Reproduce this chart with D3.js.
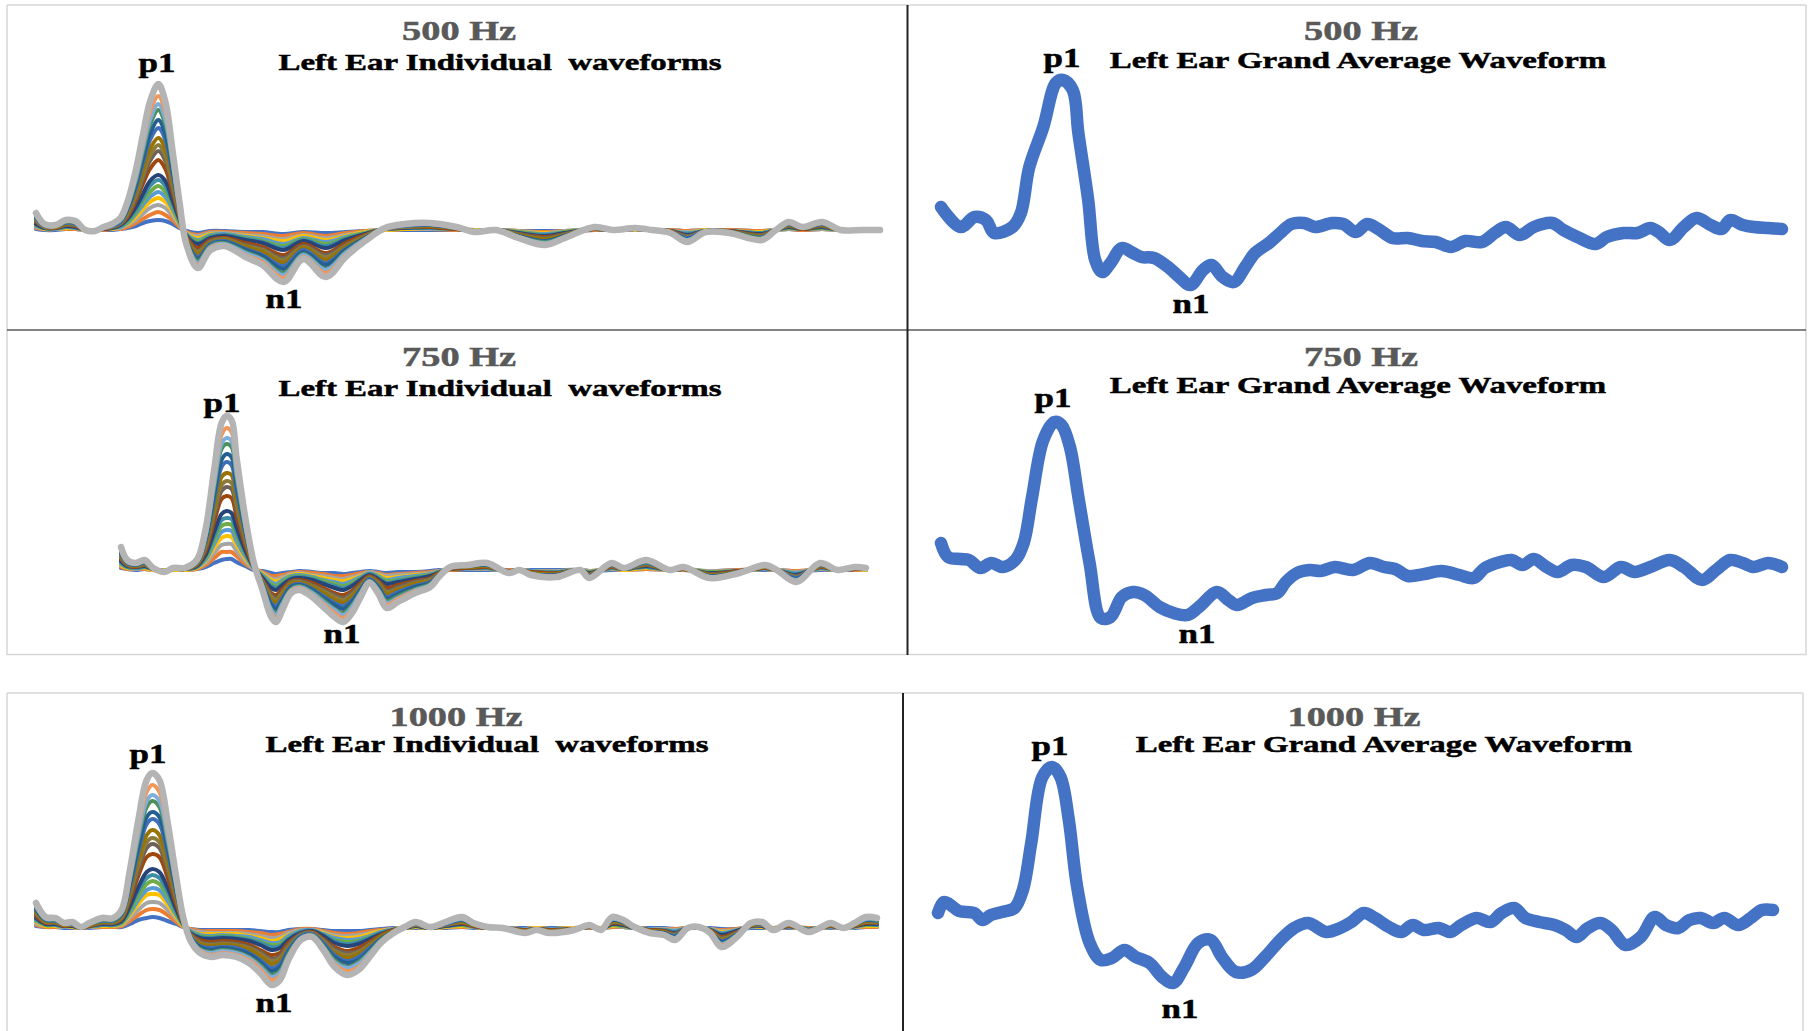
<!DOCTYPE html>
<html><head><meta charset="utf-8">
<script src="https://cdn.jsdelivr.net/npm/d3@7"></script>
<style>
html,body{margin:0;padding:0;background:#fff;}
svg{display:block;}
text{font-family:"Liberation Serif","Times New Roman",serif;font-weight:bold;}
</style></head><body>
<svg id="fig" width="1809" height="1031"></svg>
<script>
// ---- Grand average waveforms: latency (ms) and amplitude (µV) ----
const ga500Ms = [0,14,24,32,38,51,57,63,73,82,87,94,98,105,110,115,121,129,137,143,152,162,170,178,187,193,201,209,217,224,234,242,250,259,267,279,287,296,304,312,322,333,343,353,364,374,386,395,403,413,423,436,444,454,467,475,487,497,506,512,520,530,539,549,557,563,572,580,590,600];
const ga500Amp = [1.8,-0.2,0.8,0.5,-0.8,-0.2,1.2,5.8,9.8,14.2,14.5,13.5,9.2,2.5,-3.5,-4.7,-3.8,-2.3,-2.8,-3.2,-3.3,-4.2,-5.2,-6.0,-4.5,-4.0,-5.2,-5.7,-4.2,-2.8,-1.8,-0.8,0.1,0.2,-0.2,0.2,0.1,-0.7,0.1,-0.4,-1.3,-1.3,-1.6,-1.7,-2.2,-1.6,-1.7,-0.8,-0.2,-1.0,-0.2,0.2,-0.5,-1.2,-1.9,-1.2,-0.8,-0.8,-0.3,-0.7,-1.5,-0.2,0.7,0.0,-0.4,0.5,0.0,-0.2,-0.3,-0.4];

const ga750Ms = [0,5,14,20,28,36,44,53,59,65,73,81,86,92,98,106,114,121,129,137,145,156,166,176,184,197,205,211,222,232,240,246,254,263,271,281,294,306,316,324,333,345,357,370,380,388,399,407,415,423,432,440,450,460,473,485,495,506,520,530,543,553,563,572,580,590,600];
const ga750Amp = [1.7,0.3,0.1,0.0,-0.8,-0.3,-0.7,0.0,1.7,6.3,12.0,13.8,13.5,11.3,6.3,-0.3,-5.8,-5.7,-3.7,-3.2,-3.5,-4.7,-5.3,-5.5,-4.7,-3.2,-4.0,-4.5,-3.8,-3.5,-3.3,-2.2,-1.3,-1.0,-1.1,-0.7,-1.0,-0.3,-0.7,-0.9,-1.6,-1.4,-1.1,-1.5,-1.8,-0.8,-0.2,0.0,-0.5,0.1,-0.7,-1.2,-0.5,-0.7,-1.7,-0.7,-1.2,-0.7,0.0,-0.7,-2.0,-1.0,0.0,-0.3,-0.7,-0.3,-0.7];

const ga1000Ms = [0,4,8,15,26,32,38,46,55,61,67,75,82,88,94,100,109,117,125,134,142,152,161,169,177,187,196,204,214,225,235,246,256,266,279,289,297,306,314,324,333,341,349,360,368,376,387,397,405,414,422,432,443,451,459,467,476,484,494,505,515,523,532,540,548,557,565,575,584,592,600];
const ga1000Amp = [-0.3,0.8,0.6,-0.1,-0.3,-1.0,-0.5,-0.2,0.2,2.0,6.7,13.3,14.3,13.3,9.0,2.3,-3.3,-5.0,-4.8,-4.0,-4.7,-5.3,-6.7,-7.3,-5.7,-3.3,-3.0,-4.7,-6.2,-6.0,-4.7,-3.0,-1.8,-1.3,-2.2,-1.8,-1.2,-0.3,-0.8,-1.7,-2.2,-1.5,-2.0,-1.8,-2.2,-1.5,-0.8,-1.2,-0.3,0.2,-0.8,-1.2,-1.5,-2.0,-2.7,-1.8,-1.3,-2.0,-3.5,-2.7,-0.7,-1.5,-1.8,-1.0,-0.8,-1.3,-0.8,-1.5,-0.8,0.0,0.0];

// ---- Individual waveforms: one row per latency, 18 traces (smallest to largest) ----
const ind500Ms = [0,6,14,21,28,35,42,48,54,60,65,71,76,81,87,92,97,102,107,115,124,134,149,161,176,190,206,220,234,248,262,280,299,312,327,343,362,376,397,410,426,438,451,463,476,493,516,526,535,545,559,572,587,600];
const ind500Rows = [
[0.1,0.2,0.3,0.4,0.4,0.5,0.6,0.6,0.8,0.9,1,1.1,1.2,1.3,1.4,1.5,1.6,1.7],
[0,0.1,0.1,0.1,0.2,0.2,0.2,0.2,0.3,0.3,0.3,0.4,0.4,0.5,0.5,0.5,0.6,0.6],
[0,0.1,0.1,0.1,0.1,0.2,0.2,0.2,0.2,0.3,0.3,0.3,0.4,0.4,0.4,0.4,0.5,0.5],
[0.1,0.1,0.2,0.2,0.3,0.3,0.3,0.4,0.5,0.5,0.6,0.6,0.7,0.8,0.8,0.9,0.9,1],
[0.1,0.1,0.2,0.2,0.2,0.3,0.3,0.3,0.4,0.5,0.5,0.6,0.6,0.7,0.7,0.8,0.8,0.9],
[0,0,0,0,0,0,0,0,0,0,0,0,0,0,0,0,0,0],
[0,0,0,0,0,0,0,0,0,-0.1,-0.1,-0.1,-0.1,-0.1,-0.1,-0.1,-0.1,-0.1],
[0,0,0.1,0.1,0.1,0.1,0.1,0.1,0.1,0.2,0.2,0.2,0.2,0.2,0.2,0.3,0.3,0.3],
[0,0.1,0.1,0.1,0.2,0.2,0.2,0.2,0.3,0.3,0.3,0.4,0.4,0.5,0.5,0.5,0.6,0.6],
[0.1,0.1,0.2,0.3,0.3,0.4,0.4,0.5,0.6,0.6,0.7,0.8,0.8,0.9,1,1,1.1,1.2],
[0.2,0.3,0.5,0.6,0.7,0.8,1,1.1,1.3,1.5,1.6,1.8,2,2.1,2.3,2.4,2.6,2.8],
[0.4,0.7,1,1.3,1.6,1.8,2,2.3,2.9,3.2,3.5,3.8,4.2,4.5,4.9,5.2,5.5,6],
[0.7,1.1,1.6,2.1,2.5,2.9,3.2,3.6,4.6,5.1,5.5,6,6.7,7.1,7.8,8.2,8.7,9.5],
[0.9,1.5,2.2,2.8,3.3,3.8,4.4,4.9,6.1,6.9,7.4,8.1,9,9.6,10.5,11,11.8,12.8],
[1,1.8,2.5,3.2,3.8,4.4,5,5.5,7,7.9,8.5,9.2,10.2,11,12,12.6,13.4,14.6],
[0.9,1.5,2.2,2.8,3.3,3.8,4.4,4.9,6.1,6.9,7.4,8.1,9,9.6,10.5,11,11.8,12.8],
[0.6,1,1.4,1.8,2.1,2.4,2.7,3,3.8,4.3,4.6,5,5.6,6,6.6,6.9,7.4,8],
[0.2,0.3,0.5,0.6,0.7,0.8,1,1.1,1.3,1.5,1.6,1.8,2,2.1,2.3,2.4,2.6,2.8],
[-0.1,-0.2,-0.3,-0.3,-0.4,-0.5,-0.5,-0.6,-0.7,-0.8,-0.9,-0.9,-1.1,-1.1,-1.2,-1.3,-1.4,-1.5],
[-0.3,-0.5,-0.6,-0.8,-1,-1.1,-1.3,-1.4,-1.8,-2.1,-2.2,-2.4,-2.7,-2.9,-3.1,-3.3,-3.5,-3.8],
[-0.1,-0.2,-0.3,-0.4,-0.5,-0.6,-0.7,-0.8,-1,-1.1,-1.2,-1.3,-1.4,-1.5,-1.6,-1.7,-1.8,-2],
[-0.1,-0.2,-0.3,-0.4,-0.4,-0.5,-0.5,-0.6,-0.8,-0.9,-0.9,-1,-1.1,-1.2,-1.3,-1.4,-1.5,-1.6],
[-0.2,-0.3,-0.5,-0.6,-0.7,-0.8,-0.9,-1,-1.3,-1.5,-1.6,-1.7,-1.9,-2,-2.2,-2.3,-2.5,-2.7],
[-0.2,-0.4,-0.6,-0.8,-0.9,-1.1,-1.2,-1.3,-1.7,-1.9,-2,-2.2,-2.5,-2.6,-2.9,-3,-3.2,-3.5],
[-0.4,-0.6,-0.9,-1.1,-1.4,-1.6,-1.8,-2,-2.5,-2.8,-3,-3.3,-3.6,-3.9,-4.3,-4.5,-4.8,-5.2],
[-0.2,-0.3,-0.5,-0.6,-0.8,-0.9,-1,-1.1,-1.4,-1.6,-1.7,-1.8,-2,-2.2,-2.4,-2.5,-2.7,-2.9],
[-0.3,-0.6,-0.8,-1,-1.2,-1.4,-1.6,-1.8,-2.3,-2.5,-2.7,-3,-3.3,-3.5,-3.9,-4,-4.3,-4.7],
[-0.2,-0.3,-0.5,-0.6,-0.7,-0.8,-0.9,-1,-1.3,-1.5,-1.6,-1.7,-1.9,-2,-2.2,-2.3,-2.5,-2.7],
[-0.1,-0.1,-0.2,-0.2,-0.3,-0.3,-0.4,-0.4,-0.5,-0.6,-0.6,-0.7,-0.8,-0.8,-0.9,-0.9,-1,-1.1],
[0,0,0,0,0.1,0.1,0.1,0.1,0.1,0.1,0.1,0.1,0.1,0.2,0.2,0.2,0.2,0.2],
[0,0.1,0.1,0.1,0.2,0.2,0.2,0.2,0.3,0.3,0.3,0.4,0.4,0.5,0.5,0.5,0.6,0.6],
[0,0.1,0.1,0.2,0.2,0.2,0.2,0.3,0.3,0.4,0.4,0.4,0.5,0.5,0.6,0.6,0.6,0.7],
[0,0,0.1,0.1,0.1,0.1,0.1,0.1,0.1,0.2,0.2,0.2,0.2,0.2,0.2,0.3,0.3,0.3],
[0,0,0,0,-0.1,-0.1,-0.1,-0.1,-0.1,-0.1,-0.1,-0.1,-0.1,-0.2,-0.2,-0.2,-0.2,-0.2],
[0,0,0,0,0,0,0,0,0,0,0,0,0,0,0,0,0,0],
[-0.1,-0.1,-0.1,-0.2,-0.2,-0.2,-0.3,-0.3,-0.4,-0.4,-0.5,-0.5,-0.6,-0.6,-0.7,-0.7,-0.7,-0.8],
[-0.1,-0.2,-0.3,-0.3,-0.4,-0.5,-0.5,-0.6,-0.7,-0.8,-0.9,-0.9,-1.1,-1.1,-1.2,-1.3,-1.4,-1.5],
[-0.1,-0.1,-0.1,-0.2,-0.2,-0.2,-0.3,-0.3,-0.4,-0.4,-0.5,-0.5,-0.6,-0.6,-0.7,-0.7,-0.7,-0.8],
[0,0,0.1,0.1,0.1,0.1,0.1,0.1,0.1,0.2,0.2,0.2,0.2,0.2,0.2,0.3,0.3,0.3],
[0,0,0,0,0,0,0,0,0,0,0,0,0,0,0,0,0,0],
[0,0,0,0,0.1,0.1,0.1,0.1,0.1,0.1,0.1,0.1,0.1,0.2,0.2,0.2,0.2,0.2],
[0,0,0,0,0,0,0,0,0,0,0,0,0,0,0,0,0,0],
[0,0,-0.1,-0.1,-0.1,-0.1,-0.1,-0.1,-0.1,-0.2,-0.2,-0.2,-0.2,-0.2,-0.2,-0.3,-0.3,-0.3],
[-0.1,-0.1,-0.2,-0.3,-0.3,-0.4,-0.4,-0.5,-0.6,-0.6,-0.7,-0.8,-0.8,-0.9,-1,-1,-1.1,-1.2],
[0,0,0,0,-0.1,-0.1,-0.1,-0.1,-0.1,-0.1,-0.1,-0.1,-0.1,-0.2,-0.2,-0.2,-0.2,-0.2],
[0,0,-0.1,-0.1,-0.1,-0.1,-0.1,-0.1,-0.1,-0.2,-0.2,-0.2,-0.2,-0.2,-0.2,-0.3,-0.3,-0.3],
[-0.1,-0.1,-0.2,-0.2,-0.3,-0.3,-0.3,-0.4,-0.5,-0.5,-0.6,-0.6,-0.7,-0.8,-0.8,-0.9,-0.9,-1],
[0,0,0,0,0,0,0,0,0,0,0,0,0,0,0,0,0,0],
[0.1,0.1,0.1,0.2,0.2,0.2,0.3,0.3,0.4,0.4,0.5,0.5,0.6,0.6,0.7,0.7,0.7,0.8],
[0,0,0.1,0.1,0.1,0.1,0.1,0.1,0.1,0.2,0.2,0.2,0.2,0.2,0.2,0.3,0.3,0.3],
[0.1,0.1,0.1,0.2,0.2,0.2,0.3,0.3,0.4,0.4,0.5,0.5,0.6,0.6,0.7,0.7,0.7,0.8],
[0,0,0,0,0,0,0,0,0,0,0,0,0,0,0,0,0,0],
[0,0,0,0,0,0,0,0,0,0,0,0,0,0,0,0,0,0],
[0,0,0,0,0,0,0,0,0,0,0,0,0,0,0,0,0,0]
];

const ind750Ms = [0,5,12,19,26,35,42,51,61,68,75,81,85,89,93,100,107,114,121,125,130,137,144,154,163,172,179,186,193,200,207,214,223,237,249,256,265,279,295,312,321,330,351,370,377,395,405,423,442,453,474,498,519,528,544,563,577,591,600];
const ind750Rows = [
[0.2,0.3,0.4,0.5,0.6,0.7,0.8,0.9,1.1,1.2,1.3,1.4,1.6,1.7,1.9,2,2.1,2.3],
[0.1,0.1,0.2,0.2,0.3,0.3,0.3,0.4,0.5,0.5,0.6,0.6,0.7,0.8,0.8,0.9,0.9,1],
[0,0.1,0.1,0.2,0.2,0.2,0.2,0.3,0.3,0.4,0.4,0.4,0.5,0.5,0.6,0.6,0.6,0.7],
[0.1,0.1,0.2,0.2,0.3,0.3,0.3,0.4,0.5,0.5,0.6,0.6,0.7,0.8,0.8,0.9,0.9,1],
[0,0,0,0,0.1,0.1,0.1,0.1,0.1,0.1,0.1,0.1,0.1,0.2,0.2,0.2,0.2,0.2],
[0,0,0,0,-0.1,-0.1,-0.1,-0.1,-0.1,-0.1,-0.1,-0.1,-0.1,-0.2,-0.2,-0.2,-0.2,-0.2],
[0,0,0,0,0.1,0.1,0.1,0.1,0.1,0.1,0.1,0.1,0.1,0.2,0.2,0.2,0.2,0.2],
[0,0,0,0,0.1,0.1,0.1,0.1,0.1,0.1,0.1,0.1,0.1,0.2,0.2,0.2,0.2,0.2],
[0.1,0.1,0.2,0.2,0.3,0.3,0.3,0.4,0.5,0.5,0.6,0.6,0.7,0.8,0.8,0.9,0.9,1],
[0.3,0.5,0.7,0.9,1,1.2,1.4,1.5,1.9,2.2,2.3,2.5,2.8,3,3.3,3.4,3.7,4],
[0.7,1.2,1.7,2.2,2.6,3,3.4,3.8,4.8,5.4,5.8,6.3,7,7.5,8.2,8.6,9.2,10],
[1,1.8,2.5,3.2,3.8,4.4,5,5.6,7.1,7.9,8.5,9.3,10.3,11,12.1,12.6,13.5,14.7],
[1.1,1.8,2.6,3.4,4,4.6,5.2,5.9,7.4,8.3,8.9,9.7,10.8,11.6,12.6,13.2,14.2,15.4],
[1.1,1.8,2.6,3.3,3.9,4.5,5.1,5.7,7.2,8.1,8.7,9.5,10.5,11.3,12.3,12.9,13.8,15],
[0.8,1.4,1.9,2.5,2.9,3.4,3.8,4.3,5.4,6.1,6.6,7.1,7.9,8.5,9.3,9.7,10.4,11.3],
[0.4,0.6,0.9,1.2,1.4,1.6,1.8,2,2.5,2.9,3.1,3.3,3.7,4,4.3,4.6,4.9,5.3],
[0,0.1,0.1,0.2,0.2,0.2,0.2,0.3,0.3,0.4,0.4,0.4,0.5,0.5,0.6,0.6,0.6,0.7],
[-0.1,-0.2,-0.3,-0.4,-0.5,-0.6,-0.7,-0.8,-1,-1.1,-1.2,-1.3,-1.4,-1.5,-1.6,-1.7,-1.8,-2],
[-0.3,-0.6,-0.8,-1,-1.2,-1.4,-1.6,-1.8,-2.3,-2.5,-2.7,-3,-3.3,-3.5,-3.9,-4,-4.3,-4.7],
[-0.4,-0.6,-0.9,-1.1,-1.4,-1.6,-1.8,-2,-2.5,-2.8,-3,-3.3,-3.6,-3.9,-4.3,-4.5,-4.8,-5.2],
[-0.3,-0.5,-0.7,-0.9,-1,-1.2,-1.4,-1.5,-1.9,-2.2,-2.3,-2.5,-2.8,-3,-3.3,-3.4,-3.7,-4],
[-0.2,-0.3,-0.4,-0.5,-0.6,-0.7,-0.8,-0.9,-1.1,-1.2,-1.3,-1.4,-1.6,-1.7,-1.9,-2,-2.1,-2.3],
[-0.1,-0.2,-0.3,-0.4,-0.5,-0.6,-0.7,-0.8,-1,-1.1,-1.2,-1.3,-1.4,-1.5,-1.6,-1.7,-1.8,-2],
[-0.2,-0.3,-0.5,-0.6,-0.7,-0.8,-0.9,-1,-1.3,-1.5,-1.6,-1.7,-1.9,-2,-2.2,-2.3,-2.5,-2.7],
[-0.3,-0.4,-0.6,-0.8,-1,-1.1,-1.3,-1.4,-1.8,-2,-2.1,-2.3,-2.6,-2.8,-3,-3.2,-3.4,-3.7],
[-0.3,-0.6,-0.8,-1,-1.2,-1.4,-1.6,-1.8,-2.3,-2.5,-2.7,-3,-3.3,-3.5,-3.9,-4,-4.3,-4.7],
[-0.4,-0.6,-0.9,-1.1,-1.4,-1.6,-1.8,-2,-2.5,-2.8,-3,-3.3,-3.6,-3.9,-4.3,-4.5,-4.8,-5.2],
[-0.3,-0.5,-0.7,-0.9,-1.1,-1.3,-1.5,-1.6,-2.1,-2.3,-2.5,-2.7,-3,-3.2,-3.5,-3.7,-4,-4.3],
[-0.2,-0.3,-0.5,-0.6,-0.7,-0.8,-0.9,-1,-1.3,-1.5,-1.6,-1.7,-1.9,-2,-2.2,-2.3,-2.5,-2.7],
[-0.1,-0.2,-0.2,-0.3,-0.3,-0.4,-0.4,-0.5,-0.6,-0.7,-0.8,-0.8,-0.9,-1,-1.1,-1.1,-1.2,-1.3],
[-0.2,-0.3,-0.4,-0.5,-0.6,-0.7,-0.8,-0.9,-1.1,-1.2,-1.3,-1.4,-1.6,-1.7,-1.9,-2,-2.1,-2.3],
[-0.3,-0.5,-0.6,-0.8,-1,-1.1,-1.3,-1.4,-1.8,-2.1,-2.2,-2.4,-2.7,-2.9,-3.1,-3.3,-3.5,-3.8],
[-0.2,-0.4,-0.5,-0.7,-0.8,-1,-1.1,-1.2,-1.5,-1.7,-1.9,-2,-2.2,-2.4,-2.6,-2.8,-2.9,-3.2],
[-0.2,-0.3,-0.4,-0.5,-0.6,-0.7,-0.8,-0.9,-1.1,-1.2,-1.3,-1.4,-1.6,-1.7,-1.9,-2,-2.1,-2.3],
[-0.1,-0.2,-0.3,-0.4,-0.4,-0.5,-0.6,-0.6,-0.8,-0.9,-1,-1.1,-1.2,-1.3,-1.4,-1.5,-1.6,-1.7],
[0,-0.1,-0.1,-0.2,-0.2,-0.2,-0.2,-0.3,-0.3,-0.4,-0.4,-0.4,-0.5,-0.5,-0.6,-0.6,-0.6,-0.7],
[0,0,0.1,0.1,0.1,0.1,0.1,0.1,0.1,0.2,0.2,0.2,0.2,0.2,0.2,0.3,0.3,0.3],
[0,0.1,0.1,0.1,0.1,0.2,0.2,0.2,0.2,0.3,0.3,0.3,0.4,0.4,0.4,0.4,0.5,0.5],
[0,0.1,0.1,0.2,0.2,0.2,0.2,0.3,0.3,0.4,0.4,0.4,0.5,0.5,0.6,0.6,0.6,0.7],
[0,0,-0.1,-0.1,-0.1,-0.1,-0.1,-0.1,-0.1,-0.2,-0.2,-0.2,-0.2,-0.2,-0.2,-0.3,-0.3,-0.3],
[0,0,0,0,0,0,0,0,0,0,0,0,0,0,0,0,0,0],
[0,-0.1,-0.1,-0.1,-0.1,-0.2,-0.2,-0.2,-0.2,-0.3,-0.3,-0.3,-0.4,-0.4,-0.4,-0.4,-0.5,-0.5],
[0,-0.1,-0.1,-0.2,-0.2,-0.2,-0.2,-0.3,-0.3,-0.4,-0.4,-0.4,-0.5,-0.5,-0.6,-0.6,-0.6,-0.7],
[0,0,0,0,0,0,0,0,0,0,0,0,0,0,0,0,0,0],
[-0.1,-0.1,-0.1,-0.2,-0.2,-0.2,-0.3,-0.3,-0.4,-0.4,-0.5,-0.5,-0.6,-0.6,-0.7,-0.7,-0.7,-0.8],
[0,0.1,0.1,0.2,0.2,0.2,0.2,0.3,0.3,0.4,0.4,0.4,0.5,0.5,0.6,0.6,0.6,0.7],
[0,0,0,0,0.1,0.1,0.1,0.1,0.1,0.1,0.1,0.1,0.1,0.2,0.2,0.2,0.2,0.2],
[0.1,0.1,0.2,0.2,0.3,0.3,0.3,0.4,0.5,0.5,0.6,0.6,0.7,0.8,0.8,0.9,0.9,1],
[0,0,0,0,0,0,0,0,0,0,0,0,0,0,0,0,0,0],
[0,0,0.1,0.1,0.1,0.1,0.1,0.1,0.1,0.2,0.2,0.2,0.2,0.2,0.2,0.3,0.3,0.3],
[-0.1,-0.1,-0.1,-0.2,-0.2,-0.2,-0.3,-0.3,-0.4,-0.4,-0.5,-0.5,-0.6,-0.6,-0.7,-0.7,-0.7,-0.8],
[0,0,-0.1,-0.1,-0.1,-0.1,-0.1,-0.1,-0.1,-0.2,-0.2,-0.2,-0.2,-0.2,-0.2,-0.3,-0.3,-0.3],
[0,0.1,0.1,0.1,0.1,0.2,0.2,0.2,0.2,0.3,0.3,0.3,0.4,0.4,0.4,0.4,0.5,0.5],
[0,0,0,0,0,0,0,0,0,0,0,0,0,0,0,0,0,0],
[-0.1,-0.1,-0.2,-0.3,-0.3,-0.4,-0.4,-0.5,-0.6,-0.6,-0.7,-0.8,-0.8,-0.9,-1,-1,-1.1,-1.2],
[0,0.1,0.1,0.2,0.2,0.2,0.2,0.3,0.3,0.4,0.4,0.4,0.5,0.5,0.6,0.6,0.6,0.7],
[0,0,0,0,0,0,0,0,0,0,0,0,0,0,0,0,0,0],
[0,0,0.1,0.1,0.1,0.1,0.1,0.1,0.1,0.2,0.2,0.2,0.2,0.2,0.2,0.3,0.3,0.3],
[0,0,0,0,0.1,0.1,0.1,0.1,0.1,0.1,0.1,0.1,0.1,0.2,0.2,0.2,0.2,0.2]
];

const ind1000Ms = [0,7,14,20,26,32,38,47,55,61,67,73,79,83,88,94,100,105,110,117,125,133,143,152,160,168,174,180,189,197,205,213,222,230,238,246,255,263,271,281,292,304,312,322,333,349,357,366,384,395,403,411,419,427,438,448,456,465,473,481,489,500,510,518,526,537,551,559,567,576,584,592,600];
const ind1000Rows = [
[0.2,0.3,0.4,0.6,0.7,0.8,0.9,1,1.2,1.4,1.5,1.6,1.8,1.9,2.1,2.2,2.3,2.5],
[0.1,0.1,0.2,0.2,0.3,0.3,0.4,0.4,0.5,0.6,0.6,0.7,0.8,0.8,0.9,0.9,1,1.1],
[0.1,0.1,0.2,0.2,0.3,0.3,0.3,0.4,0.5,0.5,0.6,0.6,0.7,0.8,0.8,0.9,0.9,1],
[0,0.1,0.1,0.1,0.1,0.2,0.2,0.2,0.2,0.3,0.3,0.3,0.4,0.4,0.4,0.4,0.5,0.5],
[0,0.1,0.1,0.1,0.2,0.2,0.2,0.2,0.3,0.3,0.3,0.4,0.4,0.5,0.5,0.5,0.6,0.6],
[0,0,0,0,0,0,0,0,0,0.1,0.1,0.1,0.1,0.1,0.1,0.1,0.1,0.1],
[0,0.1,0.1,0.1,0.1,0.2,0.2,0.2,0.2,0.3,0.3,0.3,0.4,0.4,0.4,0.4,0.5,0.5],
[0.1,0.1,0.2,0.2,0.3,0.3,0.3,0.4,0.5,0.5,0.6,0.6,0.7,0.8,0.8,0.9,0.9,1],
[0.1,0.1,0.2,0.2,0.3,0.3,0.3,0.4,0.5,0.5,0.6,0.6,0.7,0.8,0.8,0.9,0.9,1],
[0.1,0.2,0.3,0.4,0.5,0.5,0.6,0.7,0.9,1,1,1.1,1.3,1.4,1.5,1.5,1.7,1.8],
[0.4,0.7,1,1.3,1.5,1.7,2,2.2,2.8,3.1,3.4,3.7,4.1,4.4,4.8,5,5.3,5.8],
[0.8,1.3,1.8,2.4,2.8,3.2,3.7,4.1,5.2,5.8,6.3,6.8,7.6,8.1,8.9,9.3,9.9,10.8],
[1,1.8,2.5,3.3,3.8,4.4,5,5.6,7.1,8,8.6,9.3,10.4,11.1,12.1,12.7,13.6,14.8],
[1.1,1.9,2.6,3.4,4,4.7,5.3,5.9,7.4,8.4,9,9.8,10.9,11.6,12.7,13.3,14.3,15.5],
[1,1.8,2.5,3.3,3.8,4.4,5,5.6,7.1,8,8.6,9.3,10.4,11.1,12.1,12.7,13.6,14.8],
[0.7,1.3,1.8,2.3,2.7,3.2,3.6,4,5,5.7,6.1,6.6,7.4,7.9,8.6,9,9.7,10.5],
[0.4,0.6,0.9,1.1,1.3,1.5,1.7,1.9,2.4,2.8,3,3.2,3.6,3.8,4.2,4.4,4.7,5.1],
[0.1,0.1,0.2,0.2,0.3,0.3,0.4,0.4,0.5,0.6,0.6,0.7,0.8,0.8,0.9,0.9,1,1.1],
[-0.1,-0.1,-0.2,-0.3,-0.3,-0.4,-0.4,-0.5,-0.6,-0.6,-0.7,-0.8,-0.8,-0.9,-1,-1,-1.1,-1.2],
[-0.2,-0.3,-0.4,-0.6,-0.7,-0.8,-0.9,-1,-1.2,-1.4,-1.5,-1.6,-1.8,-1.9,-2.1,-2.2,-2.3,-2.5],
[-0.2,-0.3,-0.5,-0.6,-0.8,-0.9,-1,-1.1,-1.4,-1.6,-1.7,-1.8,-2,-2.2,-2.4,-2.5,-2.7,-2.9],
[-0.2,-0.3,-0.5,-0.6,-0.7,-0.8,-0.9,-1,-1.3,-1.5,-1.6,-1.7,-1.9,-2,-2.2,-2.3,-2.5,-2.7],
[-0.2,-0.3,-0.5,-0.6,-0.8,-0.9,-1,-1.1,-1.4,-1.6,-1.7,-1.8,-2,-2.2,-2.4,-2.5,-2.7,-2.9],
[-0.2,-0.4,-0.6,-0.8,-0.9,-1.1,-1.2,-1.3,-1.7,-1.9,-2,-2.2,-2.5,-2.6,-2.9,-3,-3.2,-3.5],
[-0.3,-0.5,-0.8,-1,-1.2,-1.4,-1.5,-1.7,-2.2,-2.4,-2.6,-2.8,-3.2,-3.4,-3.7,-3.9,-4.1,-4.5],
[-0.4,-0.7,-1,-1.3,-1.5,-1.7,-1.9,-2.2,-2.7,-3.1,-3.3,-3.6,-4,-4.3,-4.7,-4.9,-5.2,-5.7],
[-0.4,-0.6,-0.9,-1.1,-1.4,-1.6,-1.8,-2,-2.5,-2.8,-3,-3.3,-3.6,-3.9,-4.3,-4.5,-4.8,-5.2],
[-0.2,-0.4,-0.5,-0.7,-0.8,-1,-1.1,-1.2,-1.5,-1.7,-1.9,-2,-2.2,-2.4,-2.6,-2.8,-2.9,-3.2],
[-0.1,-0.1,-0.2,-0.3,-0.3,-0.4,-0.4,-0.5,-0.6,-0.6,-0.7,-0.8,-0.8,-0.9,-1,-1,-1.1,-1.2],
[-0.1,-0.1,-0.2,-0.2,-0.2,-0.3,-0.3,-0.3,-0.4,-0.5,-0.5,-0.6,-0.6,-0.7,-0.7,-0.8,-0.8,-0.9],
[-0.2,-0.3,-0.4,-0.5,-0.6,-0.7,-0.7,-0.8,-1.1,-1.2,-1.3,-1.4,-1.5,-1.7,-1.8,-1.9,-2,-2.2],
[-0.3,-0.5,-0.7,-0.9,-1,-1.2,-1.3,-1.5,-1.9,-2.1,-2.3,-2.5,-2.7,-2.9,-3.2,-3.4,-3.6,-3.9],
[-0.3,-0.6,-0.8,-1,-1.2,-1.4,-1.6,-1.8,-2.3,-2.5,-2.7,-3,-3.3,-3.5,-3.9,-4,-4.3,-4.7],
[-0.3,-0.5,-0.7,-0.9,-1.1,-1.3,-1.4,-1.6,-2,-2.3,-2.4,-2.6,-2.9,-3.2,-3.4,-3.6,-3.9,-4.2],
[-0.2,-0.3,-0.5,-0.6,-0.8,-0.9,-1,-1.1,-1.4,-1.6,-1.7,-1.8,-2,-2.2,-2.4,-2.5,-2.7,-2.9],
[-0.1,-0.2,-0.3,-0.3,-0.4,-0.5,-0.5,-0.6,-0.7,-0.8,-0.9,-0.9,-1.1,-1.1,-1.2,-1.3,-1.4,-1.5],
[0,-0.1,-0.1,-0.1,-0.1,-0.2,-0.2,-0.2,-0.2,-0.3,-0.3,-0.3,-0.4,-0.4,-0.4,-0.4,-0.5,-0.5],
[0,0,0,0,0,0,0,0,0,0.1,0.1,0.1,0.1,0.1,0.1,0.1,0.1,0.1],
[0,0.1,0.1,0.1,0.2,0.2,0.2,0.2,0.3,0.3,0.3,0.4,0.4,0.5,0.5,0.5,0.6,0.6],
[0,0,0,0,0,0,0,0,0,0.1,0.1,0.1,0.1,0.1,0.1,0.1,0.1,0.1],
[0,0.1,0.1,0.1,0.2,0.2,0.2,0.2,0.3,0.3,0.3,0.4,0.4,0.5,0.5,0.5,0.6,0.6],
[0.1,0.1,0.2,0.2,0.3,0.3,0.4,0.4,0.5,0.6,0.6,0.7,0.8,0.8,0.9,0.9,1,1.1],
[0,0.1,0.1,0.1,0.1,0.2,0.2,0.2,0.2,0.3,0.3,0.3,0.4,0.4,0.4,0.4,0.5,0.5],
[0,0,0,0,0,0,0,0,0,0.1,0.1,0.1,0.1,0.1,0.1,0.1,0.1,0.1],
[0,0,0,0,0,0,0,0,0,0,0,0,0,0,0,0,0,0],
[0,-0.1,-0.1,-0.1,-0.1,-0.2,-0.2,-0.2,-0.2,-0.3,-0.3,-0.3,-0.4,-0.4,-0.4,-0.4,-0.5,-0.5],
[0,0,0,0,-0.1,-0.1,-0.1,-0.1,-0.1,-0.1,-0.1,-0.1,-0.1,-0.2,-0.2,-0.2,-0.2,-0.2],
[0,-0.1,-0.1,-0.1,-0.1,-0.2,-0.2,-0.2,-0.2,-0.3,-0.3,-0.3,-0.4,-0.4,-0.4,-0.4,-0.5,-0.5],
[0,0,0,0,-0.1,-0.1,-0.1,-0.1,-0.1,-0.1,-0.1,-0.1,-0.1,-0.2,-0.2,-0.2,-0.2,-0.2],
[0,0,0.1,0.1,0.1,0.1,0.1,0.1,0.1,0.2,0.2,0.2,0.2,0.2,0.2,0.3,0.3,0.3],
[0,0,0,0,-0.1,-0.1,-0.1,-0.1,-0.1,-0.1,-0.1,-0.1,-0.1,-0.2,-0.2,-0.2,-0.2,-0.2],
[0.1,0.1,0.2,0.2,0.3,0.3,0.4,0.4,0.5,0.6,0.6,0.7,0.8,0.8,0.9,0.9,1,1.1],
[0.1,0.1,0.1,0.2,0.2,0.2,0.3,0.3,0.4,0.4,0.5,0.5,0.6,0.6,0.7,0.7,0.7,0.8],
[0,0,0,0,0,0,0,0,0,0.1,0.1,0.1,0.1,0.1,0.1,0.1,0.1,0.1],
[0,-0.1,-0.1,-0.1,-0.1,-0.2,-0.2,-0.2,-0.2,-0.3,-0.3,-0.3,-0.4,-0.4,-0.4,-0.4,-0.5,-0.5],
[0,-0.1,-0.1,-0.2,-0.2,-0.2,-0.2,-0.3,-0.3,-0.4,-0.4,-0.4,-0.5,-0.5,-0.6,-0.6,-0.6,-0.7],
[-0.1,-0.1,-0.2,-0.3,-0.3,-0.4,-0.4,-0.5,-0.6,-0.6,-0.7,-0.8,-0.8,-0.9,-1,-1,-1.1,-1.2],
[0,0,0,0,0,0,0,0,0,0,0,0,0,0,0,0,0,0],
[0,0,0,0,0,0,0,0,0,0.1,0.1,0.1,0.1,0.1,0.1,0.1,0.1,0.1],
[0,-0.1,-0.1,-0.1,-0.1,-0.2,-0.2,-0.2,-0.2,-0.3,-0.3,-0.3,-0.4,-0.4,-0.4,-0.4,-0.5,-0.5],
[-0.1,-0.2,-0.3,-0.4,-0.5,-0.6,-0.6,-0.7,-0.9,-1,-1.1,-1.2,-1.3,-1.4,-1.6,-1.6,-1.7,-1.9],
[-0.1,-0.1,-0.2,-0.2,-0.2,-0.3,-0.3,-0.3,-0.4,-0.5,-0.5,-0.6,-0.6,-0.7,-0.7,-0.8,-0.8,-0.9],
[0,0.1,0.1,0.1,0.1,0.2,0.2,0.2,0.2,0.3,0.3,0.3,0.4,0.4,0.4,0.4,0.5,0.5],
[0,0.1,0.1,0.1,0.2,0.2,0.2,0.2,0.3,0.3,0.3,0.4,0.4,0.5,0.5,0.5,0.6,0.6],
[0,0,0,0,-0.1,-0.1,-0.1,-0.1,-0.1,-0.1,-0.1,-0.1,-0.1,-0.2,-0.2,-0.2,-0.2,-0.2],
[0,0.1,0.1,0.1,0.1,0.2,0.2,0.2,0.2,0.3,0.3,0.3,0.4,0.4,0.4,0.4,0.5,0.5],
[0,0,-0.1,-0.1,-0.1,-0.1,-0.1,-0.2,-0.2,-0.2,-0.2,-0.3,-0.3,-0.3,-0.3,-0.3,-0.4,-0.4],
[0,0,0,0,0,0,0,0,0,0,0,0,0,0,0,0,0,0],
[0,0.1,0.1,0.1,0.1,0.2,0.2,0.2,0.2,0.3,0.3,0.3,0.4,0.4,0.4,0.4,0.5,0.5],
[0,0,0,0,0,0,0,0,0,0,0,0,0,0,0,0,0,0],
[0,0.1,0.1,0.1,0.1,0.2,0.2,0.2,0.2,0.3,0.3,0.3,0.4,0.4,0.4,0.4,0.5,0.5],
[0.1,0.1,0.2,0.2,0.3,0.3,0.4,0.4,0.5,0.6,0.6,0.7,0.8,0.8,0.9,0.9,1,1.1],
[0.1,0.1,0.2,0.2,0.3,0.3,0.3,0.4,0.5,0.5,0.6,0.6,0.7,0.8,0.8,0.9,0.9,1]
];

// trace colours, smallest trace first (the last one is the outer envelope)
const traceColors = ["#4472C4","#ED7D31","#A5A5A5","#FFC000","#5B9BD5","#70AD47","#3E8EA8","#264478","#9E480E","#6E6259","#8C7B3A","#997300","#3F6FB8","#255E91","#4E8F5E","#7CAFDD","#F1975A","#B4B4B4"];

// labels
const freqLabels = ["500 Hz", "750 Hz", "1000 Hz"];
const indTitle = "Left Ear Individual\u00A0 waveforms";
const gaTitle = "Left Ear Grand Average Waveform";
const peakLabels = ["p1", "n1"];

// ---- layout ----
const svg = d3.select("#fig");

// frames
const frame = svg.append("g");
const light = "#D6D6D6";
[[7,5,1806,5],[7,5,7,655],[1806,5,1806,655],[7,654.5,1806,654.5],
 [7,693,1803,693],[7,693,7,1031],[1803,693,1803,1031]].forEach(l =>
  frame.append("line").attr("x1",l[0]).attr("y1",l[1]).attr("x2",l[2]).attr("y2",l[3])
    .attr("stroke", light).attr("stroke-width", 1.5));
frame.append("line").attr("x1",7).attr("x2",1806).attr("y1",330).attr("y2",330)
  .attr("stroke","#5a5a5a").attr("stroke-width",1.6);
frame.append("line").attr("x1",907.5).attr("x2",907.5).attr("y1",5).attr("y2",655)
  .attr("stroke","#222").attr("stroke-width",2);
frame.append("line").attr("x1",903).attr("x2",903).attr("y1",693).attr("y2",1031)
  .attr("stroke","#222").attr("stroke-width",2);

const panels = [
  {kind:"ind", f:0, ms:ind500Ms,  rows:ind500Rows,  x0:36,  x1:880,  zeroY:230,
   title:[459,40], sub:[500,70], p1:[157,72], n1:[284,308]},
  {kind:"ga",  f:0, ms:ga500Ms,   amp:ga500Amp,    x0:941, x1:1782, zeroY:225,
   title:[1361,40], sub:[1358,68], p1:[1062,67], n1:[1191,313]},
  {kind:"ind", f:1, ms:ind750Ms,  rows:ind750Rows,  x0:121, x1:866,  zeroY:570,
   title:[459,366], sub:[500,396], p1:[222,412], n1:[342,643]},
  {kind:"ga",  f:1, ms:ga750Ms,   amp:ga750Amp,    x0:941, x1:1782, zeroY:560,
   title:[1361,366], sub:[1358,393], p1:[1053,407], n1:[1197,643]},
  {kind:"ind", f:2, ms:ind1000Ms, rows:ind1000Rows, x0:36,  x1:877,  zeroY:928,
   title:[456,726], sub:[487,752], p1:[148,763], n1:[274,1012]},
  {kind:"ga",  f:2, ms:ga1000Ms,  amp:ga1000Amp,   x0:938, x1:1773, zeroY:910,
   title:[1354,726], sub:[1384,752], p1:[1050,755], n1:[1180,1018]}
];

function label(g, txt, pos, size, fill, sx) {
  g.append("text")
    .attr("transform", `translate(${pos[0]},${pos[1]}) scale(${sx},1)`)
    .attr("text-anchor", "middle")
    .attr("font-size", size)
    .attr("fill", fill)
    .attr("stroke", fill)
    .attr("stroke-width", 0.5)
    .text(txt);
}

panels.forEach(p => {
  const g = svg.append("g");
  const x = d3.scaleLinear().domain([0, 600]).range([p.x0, p.x1]);
  const y = d3.scaleLinear().domain([0, 10]).range([p.zeroY, p.zeroY - 100]);
  const line = d3.line().curve(d3.curveCatmullRom.alpha(0.5))
    .x(d => x(d[0])).y(d => y(d[1]));

  if (p.kind === "ga") {
    const pts = p.ms.map((t, i) => [t, p.amp[i]]);
    g.append("path").attr("d", line(pts)).attr("fill", "none")
      .attr("stroke", "#4472C4").attr("stroke-width", 12.5)
      .attr("stroke-linejoin", "round").attr("stroke-linecap", "round");
  } else {
    traceColors.forEach((c, k) => {
      const pts = p.ms.map((t, i) => [t, p.rows[i][k]]);
      const outer = k === traceColors.length - 1;
      g.append("path").attr("d", line(pts)).attr("fill", "none")
        .attr("stroke", c).attr("stroke-width", outer ? 6.5 : 4)
        .attr("stroke-linejoin", "round").attr("stroke-linecap", "round");
    });
  }

  label(g, freqLabels[p.f], p.title, 27, "#595959", 1.42);
  label(g, p.kind === "ga" ? gaTitle : indTitle, p.sub, 24, "#000", 1.37);
  label(g, peakLabels[0], p.p1, 28, "#000", 1.25);
  label(g, peakLabels[1], p.n1, 28, "#000", 1.25);
});
</script>
</body></html>
